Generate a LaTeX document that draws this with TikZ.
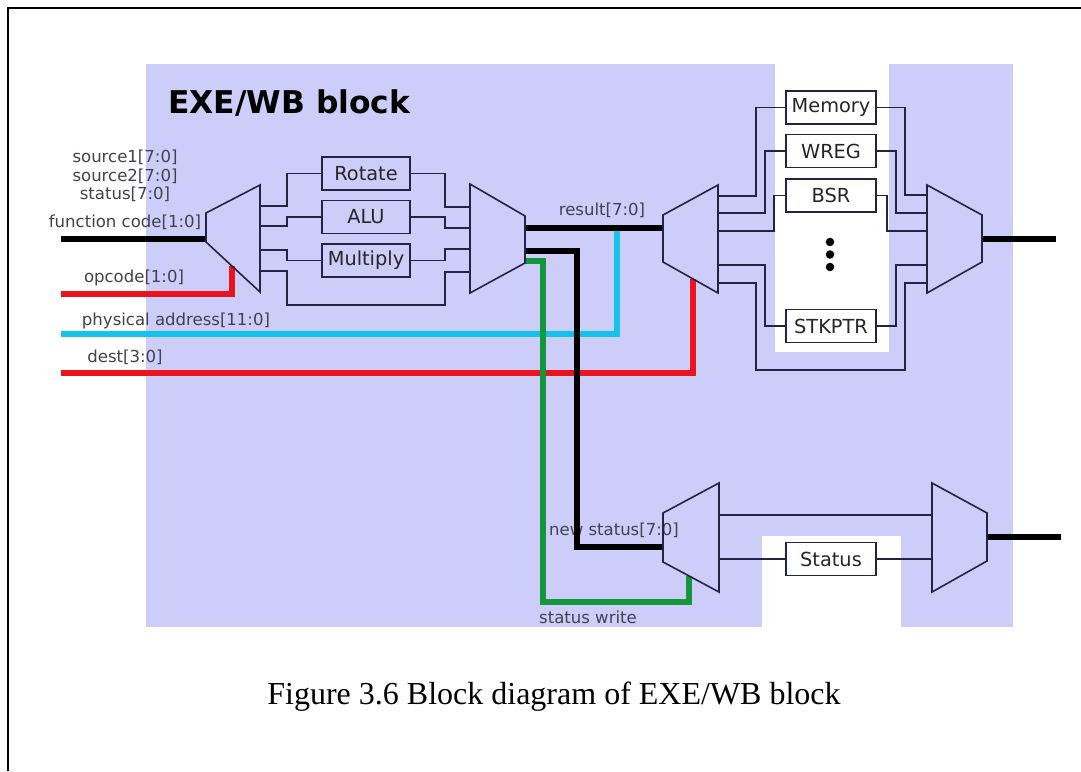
\documentclass[tikz,border=0pt]{standalone}
\usepackage{fontspec}
\setmainfont{Liberation Serif}
\newfontfamily\labfont{DejaVu Sans}
\definecolor{bgpurple}{RGB}{205,205,250}
\definecolor{wirec}{RGB}{35,35,70}
\definecolor{labc}{RGB}{65,65,80}
\definecolor{busred}{RGB}{235,20,30}
\definecolor{buscyan}{RGB}{20,195,235}
\definecolor{busgreen}{RGB}{20,150,60}
\tikzset{
  wire/.style={draw=wirec, line width=1.2pt, line join=miter},
  bus/.style={line width=4.2pt, line join=miter},
  unitbox/.style={draw=wirec, line width=1.2pt, inner sep=0pt,
    minimum width=66pt, minimum height=24.75pt,
    font=\labfont\fontsize{14.5}{15}\selectfont, text=black!85},
  unitbox2/.style={unitbox, minimum width=67.5pt},
  muxshape/.style={draw=wirec, line width=1.2pt, line join=miter},
  lbl/.style={font=\labfont\fontsize{12.4}{13}\selectfont, text=labc, inner sep=0pt, anchor=base},
}
\begin{document}
\begin{tikzpicture}[x=0.75pt,y=-0.75pt]
\useasboundingbox (0,0) rectangle (1081,771);
% frame
\draw[line width=1.5pt] (8,771) -- (8,8) -- (1081,8);
% background
\fill[bgpurple] (146,64) rectangle (1013,627);
\fill[white] (775,64) rectangle (889,352);
\fill[white] (762,536) rectangle (901,627);
% title
\node[font=\labfont\bfseries\fontsize{23.5}{24}\selectfont, anchor=base west, inner sep=0pt] (title) at (168,113) {EXE/WB block};
% labels
\node[lbl] (ls1) at (125,162) {source1[7:0]};
\node[lbl] (ls2) at (125,181) {source2[7:0]};
\node[lbl] (lst) at (125,199) {status[7:0]};
\node[lbl] (lfc) at (125,227) {function code[1:0]};
\node[lbl] (lop) at (134,282) {opcode[1:0]};
\node[lbl] (lpa) at (176,325) {physical address[11:0]};
\node[lbl] (lde) at (125,362) {dest[3:0]};
\node[lbl] (lre) at (602,215) {result[7:0]};
\node[lbl] (lns) at (614,535) {new status[7:0]};
\node[lbl] (lsw) at (588,623) {status write};
% unit boxes
\node[unitbox] (rot) at (366,173.5) {Rotate};
\node[unitbox] (alu) at (366,217) {ALU};
\node[unitbox] (mul) at (366,260.5) {Multiply};
\node[unitbox2] (mem) at (831,107.5) {Memory};
\node[unitbox2] (wreg) at (831,151) {WREG};
\node[unitbox2] (bsr) at (831,195.5) {BSR};
\node[unitbox2] (stk) at (831,326) {STKPTR};
\node[unitbox2] (stat) at (831,559) {Status};
\fill[black] (830,242) circle (3.2pt) (830,254.5) circle (3.2pt) (830,267) circle (3.2pt);
% mux port coordinates
\coordinate (in1) at (61,239);
\coordinate (m1in) at (206,239);
\coordinate (m1o1) at (260,206);
\coordinate (m1o2) at (260,226);
\coordinate (m1o3) at (260,250);
\coordinate (m1o4) at (260,271);
\coordinate (m1ctl) at (232,266);
\coordinate (m2i1) at (470,207);
\coordinate (m2i2) at (470,228);
\coordinate (m2i3) at (470,249);
\coordinate (m2i4) at (470,272);
\coordinate (m2o1) at (525,228);
\coordinate (m2o2) at (525,251);
\coordinate (m2o3) at (525,261);
\coordinate (m3in) at (663,228);
\coordinate (m3ctl) at (693,279);
\coordinate (m3o1) at (718,196);
\coordinate (m3o2) at (718,213);
\coordinate (m3o3) at (718,231);
\coordinate (m3o4) at (718,265);
\coordinate (m3o5) at (718,283);
\coordinate (m5i1) at (927,195);
\coordinate (m5i2) at (927,213);
\coordinate (m5i3) at (927,231);
\coordinate (m5i4) at (927,265);
\coordinate (m5i5) at (927,283);
\coordinate (m5out) at (982,239);
\coordinate (out1) at (1056,239);
\coordinate (m4in) at (663,547);
\coordinate (m4ctl) at (689,576);
\coordinate (m4o1) at (719,515);
\coordinate (m4o2) at (719,559);
\coordinate (m6i1) at (932,515);
\coordinate (m6i2) at (932,559);
\coordinate (m6out) at (987,537);
\coordinate (out2) at (1061,537);
\coordinate (opin) at (61,294);
\coordinate (pain) at (61,334);
\coordinate (dein) at (61,373);
\coordinate (resjoin) at (617,228);
% thin wires
\draw[wire] (m1o1) -- (287,206) |- (rot.west);
\draw[wire] (m1o2) -- (287,226) |- (alu.west);
\draw[wire] (m1o3) -- (287,250) |- (mul.west);
\draw[wire] (m1o4) -- (287,271) -- (287,305) -- (445,305) -- (445,272) -- (m2i4);
\draw[wire] (rot.east) -| (445,207) -- (m2i1);
\draw[wire] (alu.east) -| (445,228) -- (m2i2);
\draw[wire] (mul.east) -| (445,249) -- (m2i3);
\draw[wire] (m3o1) -- (756,196) |- (mem.west);
\draw[wire] (m3o2) -- (765,213) |- (wreg.west);
\draw[wire] (m3o3) -- (774,231) |- (bsr.west);
\draw[wire] (m3o4) -- (765,265) |- (stk.west);
\draw[wire] (m3o5) -- (756,283) -- (756,370) -- (905,370) -- (905,283) -- (m5i5);
\draw[wire] (mem.east) -| (905,195) -- (m5i1);
\draw[wire] (wreg.east) -| (896,213) -- (m5i2);
\draw[wire] (bsr.east) -| (887,231) -- (m5i3);
\draw[wire] (stk.east) -| (896,265) -- (m5i4);
\draw[wire] (m4o1) -- (m6i1);
\draw[wire] (m4o2) -- (stat.west);
\draw[wire] (stat.east) -- (m6i2);
% buses
\draw[bus, black] (in1) -- (m1in);
\draw[bus, busred] (opin) -| (m1ctl);
\draw[bus, buscyan] (pain) -| (resjoin);
\draw[bus, busred] (dein) -| (m3ctl);
\draw[bus, busgreen] (m2o3) -- (543,261) -- (543,602) -| (m4ctl);
\draw[bus, black] (m2o2) -- (577,251) -- (577,547) -- (m4in);
\draw[bus, black] (m2o1) -- (m3in);
\draw[bus, black] (m5out) -- (out1);
\draw[bus, black] (m6out) -- (out2);
% muxes
\draw[muxshape] (206,213) -- (260,185) -- (260,292) -- (206,242) -- cycle;
\draw[muxshape] (470,184) -- (525,216) -- (525,263) -- (470,293) -- cycle;
\draw[muxshape] (663,215) -- (718,185) -- (718,293) -- (663,262) -- cycle;
\draw[muxshape] (927,185) -- (982,215) -- (982,262) -- (927,293) -- cycle;
\draw[muxshape] (663,513) -- (719,483) -- (719,592) -- (663,562) -- cycle;
\draw[muxshape] (932,483) -- (987,513) -- (987,561) -- (932,592) -- cycle;
% caption
\node[font=\fontsize{24}{26}\selectfont, anchor=base, inner sep=0pt] (cap) at (554,704) {Figure 3.6 Block diagram of EXE/WB block};
\end{tikzpicture}
\end{document}
